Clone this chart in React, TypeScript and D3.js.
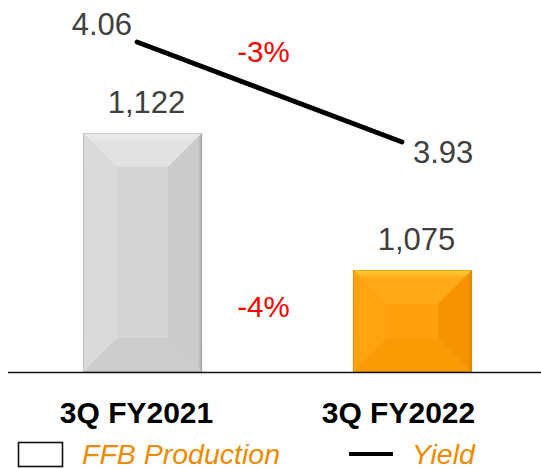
import React from "react";
import * as d3 from "d3";

const categories = ["3Q FY2021", "3Q FY2022"];
const production = [1122, 1075];
const productionLabels = ["1,122", "1,075"];
const yieldValues = [4.06, 3.93];
const yieldLabels = ["4.06", "3.93"];
const changeLabels = ["-3%", "-4%"];
const legendLabels = ["FFB Production", "Yield"];

const W = 541;
const H = 469;
const FONT = "'Liberation Sans', Arial, sans-serif";

const palettes = [
  { center: "#D5D5D5", top: "#E2E2E2", topEdge: "#EEEEEE", left: "#DADADA", right: "#CBCBCB", bottom: "#CDCDCD", edge: "#A6A6A6" },
  { center: "#FFA00C", top: "#FFAA16", topEdge: "#FFCF3A", left: "#FFA410", right: "#F59400", bottom: "#FA9B05", edge: "#E08600" },
];

function BevelBar({ x, y, w, h, p, id }: { x: number; y: number; w: number; h: number; p: any; id: string }) {
  const b = Math.min(34, h / 2 - 1, w / 2);
  const pts = (a: number[][]) => a.map((q) => q.join(",")).join(" ");
  return (
    <g>
      <defs>
        <linearGradient id={`tg-${id}`} x1="0" y1="0" x2="0" y2="1">
          <stop offset="0" stopColor={p.topEdge} />
          <stop offset="0.25" stopColor={p.top} />
          <stop offset="1" stopColor={p.top} />
        </linearGradient>
        <linearGradient id={`rg-${id}`} x1="0" y1="0" x2="1" y2="0">
          <stop offset="0" stopColor={p.right} />
          <stop offset="0.88" stopColor={p.right} />
          <stop offset="1" stopColor={p.edge} />
        </linearGradient>
      </defs>
      <rect x={x} y={y} width={w} height={h} fill={p.center} />
      <polygon points={pts([[x, y], [x + w, y], [x + w - b, y + b], [x + b, y + b]])} fill={`url(#tg-${id})`} />
      <polygon points={pts([[x, y + h], [x + w, y + h], [x + w - b, y + h - b], [x + b, y + h - b]])} fill={p.bottom} />
      <polygon points={pts([[x, y], [x + b, y + b], [x + b, y + h - b], [x, y + h]])} fill={p.left} />
      <polygon points={pts([[x + w, y], [x + w - b, y + b], [x + w - b, y + h - b], [x + w, y + h]])} fill={`url(#rg-${id})`} />
      <rect x={x + 0.5} y={y + 0.5} width={w - 1} height={h - 1} fill="none" stroke={p.edge} strokeOpacity={0.5} strokeWidth={1} />
    </g>
  );
}

export default function App() {
  const baseY = 372;
  const x = d3.scaleBand<string>().domain(categories).range([14, 541]).paddingInner(0.559).paddingOuter(0.2555);
  const y = d3.scaleLinear().domain([1040, 1160]).range([baseY, baseY - 120 * 2.915]);
  const xLine = d3.scalePoint<string>().domain(categories).range([137, 402]);
  const yLine = d3.scaleLinear().domain([3.8, 4.1]).range([242, 11.2]);
  const line = d3
    .line<number>()
    .x((_, i) => xLine(categories[i])!)
    .y((d) => yLine(d));

  const bw = x.bandwidth();
  const mid = (x(categories[0])! + x(categories[1])! + bw) / 2;

  return (
    <svg width={W} height={H} style={{ position: "absolute", left: 0, top: 0, background: "#fff" }} fontFamily={FONT}>
      {categories.map((c, i) => (
        <BevelBar key={c} id={`b${i}`} x={x(c)!} y={y(production[i])} w={bw} h={baseY - y(production[i])} p={palettes[i]} />
      ))}
      <line x1={8} x2={541} y1={baseY + 0.5} y2={baseY + 0.5} stroke="#111" strokeWidth={1.6} />
      {categories.map((c, i) => (
        <text key={c + "v"} x={x(c)! + bw / 2 + 4} y={y(production[i]) - 20} textAnchor="middle" fontSize={31} fill="#404040">
          {productionLabels[i]}
        </text>
      ))}
      <path d={line(yieldValues)!} fill="none" stroke="#000" strokeWidth={4.8} strokeLinecap="round" />
      <text x={xLine(categories[0])! - 5} y={yLine(yieldValues[0]) - 7} textAnchor="end" fontSize={31} fill="#404040">
        {yieldLabels[0]}
      </text>
      <text x={xLine(categories[1])! + 11} y={yLine(yieldValues[1]) + 21} textAnchor="start" fontSize={31} fill="#404040">
        {yieldLabels[1]}
      </text>
      <text x={mid - 14} y={62} textAnchor="middle" fontSize={29.5} fill="#FF0000">
        {changeLabels[0]}
      </text>
      <text x={mid - 14} y={317} textAnchor="middle" fontSize={29.5} fill="#FF0000">
        {changeLabels[1]}
      </text>
      {categories.map((c, i) => (
        <text key={c + "t"} x={x(c)! + bw / 2 - (i === 0 ? 6 : 14)} y={423} textAnchor="middle" fontSize={30} fontWeight="bold" fill="#000">
          {c}
        </text>
      ))}
      <rect x={18.5} y={442.5} width={44} height={24} fill="#fff" stroke="#111" strokeWidth={1.6} />
      <text x={82} y={464} fontSize={28.5} fontStyle="italic" fill="#F08A00">
        {legendLabels[0]}
      </text>
      <line x1={349} x2={393} y1={454} y2={454} stroke="#000" strokeWidth={4} />
      <text x={412} y={464} fontSize={28.5} fontStyle="italic" fill="#F08A00">
        {legendLabels[1]}
      </text>
    </svg>
  );
}
